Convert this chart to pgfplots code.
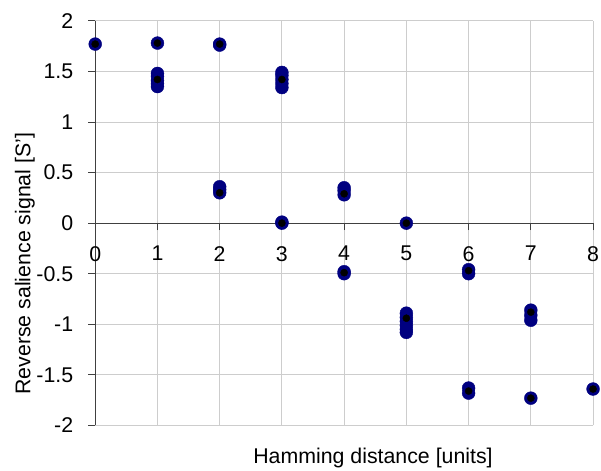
\documentclass[border=0pt]{standalone}
\usepackage{pgfplots}
\pgfplotsset{compat=1.18}
\usepackage{fontspec}
\setmainfont{Liberation Sans}
\usetikzlibrary{calc}
\definecolor{navyblue}{RGB}{0,0,128}
\definecolor{gridgray}{RGB}{205,205,205}
\begin{document}
\fontsize{21}{25}\selectfont
\begin{tikzpicture}
\begin{axis}[name=ax, scale only axis, width=502pt, height=408pt,
  xmin=0, xmax=8, ymin=-2, ymax=2,
  xtick={0,1,2,3,4,5,6,7,8},
  ytick={-2,-1.5,-1,-0.5,0,0.5,1,1.5,2},
  axis y line=left, axis x line=middle,
  hide obscured x ticks=false, hide obscured y ticks=false,
  axis line style={-, black!75, line width=0.9pt},
  grid=major, major grid style={gridgray, line width=0.9pt},
  tick align=outside, major tick length=7pt,
  tick style={black!75, line width=0.9pt},
  /pgf/number format/assume math mode=true,
  ticklabel style={font=\fontsize{21.5}{25}\selectfont},
  yticklabel style={xshift=-8pt},
  xticklabel style={yshift=-9pt},
  label style={font=\fontsize{21.5}{25}\selectfont},
  xlabel={Hamming distance [units]},
  ylabel={Reverse salience signal [S']},
  xlabel style={at={(axis description cs:0.558,0)}, anchor=north, yshift=-23pt, inner sep=0pt},
  ylabel style={at={(axis description cs:-0.1614,0.40)}, anchor=north, inner sep=0pt},
  clip=false,
]
\addplot[only marks, mark=*, mark size=6.5pt, mark options={fill=navyblue, draw=navyblue}] coordinates {
(0,1.77)
(1,1.78) (1,1.48) (1,1.45) (1,1.41) (1,1.38) (1,1.35)
(2,1.77) (2,1.76) (2,0.36) (2,0.33) (2,0.30)
(3,1.49) (3,1.46) (3,1.42) (3,1.38) (3,1.34) (3,0.01) (3,0.0)
(4,0.35) (4,0.32) (4,0.28) (4,-0.48) (4,-0.50)
(5,0.0) (5,-0.89) (5,-0.93) (5,-0.97) (5,-1.01) (5,-1.05) (5,-1.08)
(6,-0.46) (6,-0.50) (6,-1.63) (6,-1.68)
(7,-0.86) (7,-0.91) (7,-0.96) (7,-1.73)
(8,-1.64)
};
\addplot[only marks, mark=*, mark size=3.6pt, mark options={fill=black, draw=black}] coordinates {
(0,1.77) (1,1.78) (1,1.42) (2,1.77) (2,0.30) (3,1.42) (3,0.0)
(4,0.29) (4,-0.49) (5,0.0) (5,-0.94) (6,-0.47) (6,-1.66)
(7,-0.88) (7,-1.73) (8,-1.64)
};
\end{axis}
\pgfresetboundingbox
\path[use as bounding box] ($(ax.south west)+(-96pt,-45pt)$) rectangle ($(ax.north east)+(8pt,21pt)$);
\end{tikzpicture}
\end{document}
